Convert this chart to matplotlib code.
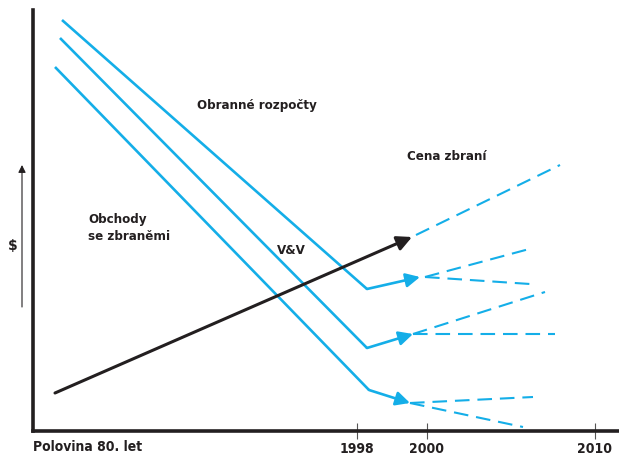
import matplotlib.pyplot as plt

# schematic units: x, y measured from the axis origin
tick_pos = [324, 394, 562]
tick_labels = ["1998", "2000", "2010"]

# three blue budget lines: start, kink
blue_x = [[29, 334], [27, 334], [22, 336]]
blue_y = [[411, 142], [393, 83], [364, 41]]
# blue arrows: kink -> tip
arrow_tips = [(387, 154), (380, 97), (377, 28)]
# dashed forecasts from each tip (two branches each)
dash_x = [[392, 500], [392, 497], [380, 522], [380, 512], [377, 500], [377, 490]]
dash_y = [[154, 183], [154, 147], [97, 97], [97, 139], [28, 34], [28, 4]]

# black line (arms trade)
black_start = (22, 38)
black_tip = (379, 194)
black_dash_x = [383, 527]
black_dash_y = [196, 266]

labels = [
    ("Obranné rozpočty", 164, 326),
    ("Cena zbraní", 374, 275),
    ("Obchody\nse zbraněmi", 55, 203),
    ("V&V", 244, 181),
]

blue = "#14aee8"
dark = "#231f20"

fig = plt.figure(figsize=(6.19, 4.59), dpi=100)
ax = fig.add_axes([33 / 619, 28 / 459, 586 / 619, 421 / 459])
ax.set_xlim(0, 586)
ax.set_ylim(0, 421)
for s in ["top", "right"]:
    ax.spines[s].set_visible(False)
for s in ["left", "bottom"]:
    ax.spines[s].set_linewidth(2.6)
    ax.spines[s].set_color(dark)
ax.set_yticks([])
ax.set_xticks(tick_pos)
ax.set_xticklabels(tick_labels, fontsize=10, fontweight="bold", fontstretch="condensed", color=dark)
ax.tick_params(axis="x", direction="inout", length=12, width=0.8, color="#555555", pad=2)

for xs, ys, tip in zip(blue_x, blue_y, arrow_tips):
    ax.plot(xs, ys, color=blue, lw=1.9, solid_capstyle="butt")
    ax.annotate("", xy=tip, xytext=(xs[1], ys[1]),
                arrowprops=dict(arrowstyle="-|>", color=blue, lw=1.9, mutation_scale=21, shrinkA=0, shrinkB=0))

for xs, ys in zip(dash_x, dash_y):
    ax.plot(xs, ys, color=blue, lw=1.5, dashes=(7, 3.8))

ax.annotate("", xy=black_tip, xytext=black_start,
            arrowprops=dict(arrowstyle="-|>", color=dark, lw=2.2, mutation_scale=22, shrinkA=0, shrinkB=0))
ax.plot(black_dash_x, black_dash_y, color=blue, lw=1.5, dashes=(7, 3.8))

for txt, x, y in labels:
    ax.text(x, y, txt, fontsize=9.5, fontweight="bold", fontstretch="condensed", color=dark,
            ha="left", va="center", linespacing=1.3)

# y axis label with arrow
ax.annotate("", xy=(-11, 266), xytext=(-11, 124), annotation_clip=False,
            arrowprops=dict(arrowstyle="-|>", color=dark, lw=0.8, mutation_scale=11, shrinkA=0, shrinkB=0))
ax.text(-20, 185, "$", fontsize=10, fontweight="bold", color=dark, ha="center", va="center")
ax.text(0, -16, "Polovina 80. let", fontsize=10, fontweight="bold", fontstretch="condensed",
        color=dark, ha="left", va="center")

fig.savefig("out.png", dpi=100)
